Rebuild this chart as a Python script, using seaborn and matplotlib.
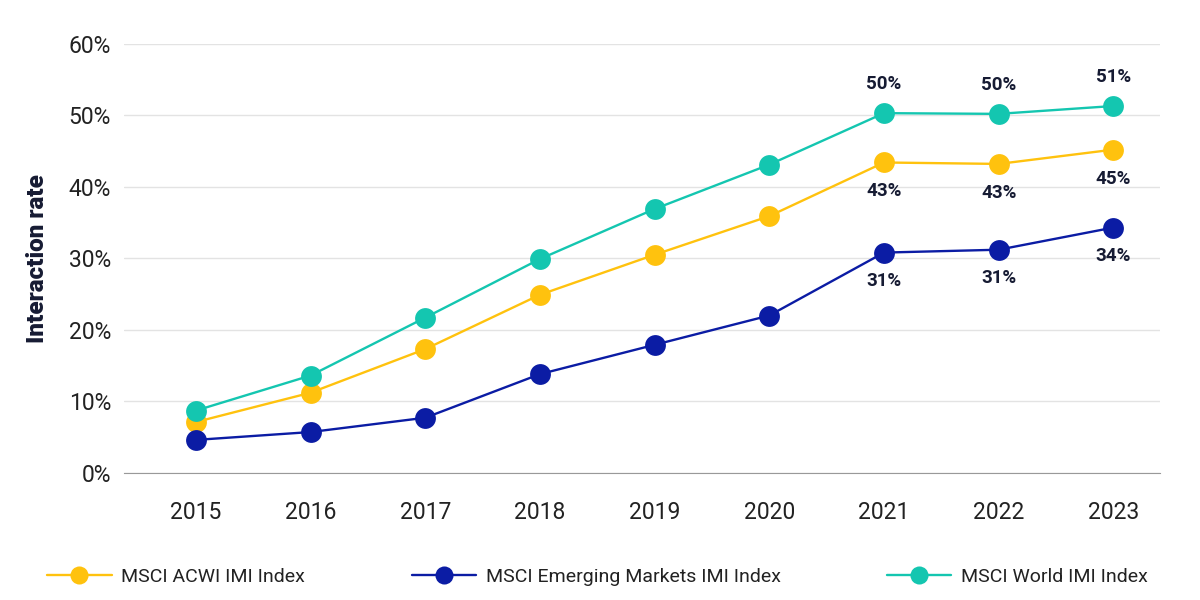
import matplotlib.pyplot as plt
import pandas as pd
import seaborn as sns

# Data
years = [2015, 2016, 2017, 2018, 2019, 2020, 2021, 2022, 2023]
acwi = [7.1, 11.2, 17.3, 24.9, 30.5, 35.9, 43.4, 43.2, 45.2]
em = [4.6, 5.7, 7.7, 13.8, 17.9, 22.0, 30.8, 31.2, 34.3]
world = [8.7, 13.6, 21.7, 29.9, 36.9, 43.1, 50.3, 50.2, 51.3]

series_names = ['MSCI ACWI IMI Index', 'MSCI Emerging Markets IMI Index', 'MSCI World IMI Index']
colors = ['#FFC20E', '#0B1CA4', '#14C6B0']
label_years = [2021, 2022, 2023]

df = pd.concat([
    pd.DataFrame({'year': years, 'rate': acwi, 'index': series_names[0]}),
    pd.DataFrame({'year': years, 'rate': em, 'index': series_names[1]}),
    pd.DataFrame({'year': years, 'rate': world, 'index': series_names[2]}),
])
df['pos'] = df['year'].map({y: i for i, y in enumerate(years)})

sns.set_style('white')
plt.rcParams['font.family'] = ['Roboto', 'DejaVu Sans']

fig = plt.figure(figsize=(12, 6), dpi=100)
ax = fig.add_axes([0.103, 0.212, 0.864, 0.715])

sns.lineplot(
    data=df,
    x='pos',
    y='rate',
    hue='index',
    hue_order=series_names,
    palette=colors,
    marker='o',
    markersize=15,
    markeredgewidth=0,
    linewidth=1.7,
    ax=ax,
    legend=False,
)

# value labels for the last three years
text_color = '#161B33'
offsets = {series_names[0]: -29, series_names[1]: -28, series_names[2]: 29}
for name in series_names:
    sub = df[(df['index'] == name) & (df['year'].isin(label_years))]
    for _, row in sub.iterrows():
        ax.annotate(
            f"{round(row['rate']):.0f}%",
            (row['pos'], row['rate']),
            xytext=(0, offsets[name]),
            textcoords='offset pixels',
            ha='center', va='center',
            fontsize=13.5, fontweight='bold', color=text_color,
        )

ax.set_xlim(-0.63, 8.41)
ax.set_ylim(0, 60)
ax.set_xticks(range(len(years)))
ax.set_xticklabels([str(y) for y in years])
ax.set_yticks(range(0, 61, 10))
ax.set_yticklabels([f'{v}%' for v in range(0, 61, 10)])
ax.tick_params(axis='both', labelsize=16.5, colors='#222222', length=0)
ax.tick_params(axis='x', pad=20)
ax.tick_params(axis='y', pad=9)
ax.grid(axis='y', color='#E3E3E3', linewidth=1)
ax.set_axisbelow(True)
for side in ['top', 'right', 'left']:
    ax.spines[side].set_visible(False)
ax.spines['bottom'].set_color('#999999')
ax.set_xlabel('')
ax.set_ylabel('Interaction rate', fontsize=17.5, fontweight='heavy', color=text_color, labelpad=14)

handles = [
    plt.Line2D([], [], color=c, marker='o', markersize=13, markeredgewidth=0, linewidth=1.7)
    for c in colors
]
fig.legend(
    handles, series_names,
    loc='lower left', bbox_to_anchor=(0.033, 0.01, 0.93, 0.08),
    mode='expand', ncol=3, frameon=False,
    fontsize=14, handlelength=3.3, handletextpad=0.5, borderaxespad=0,
    labelcolor='#222222',
)

fig.savefig('out.png', dpi=100)
